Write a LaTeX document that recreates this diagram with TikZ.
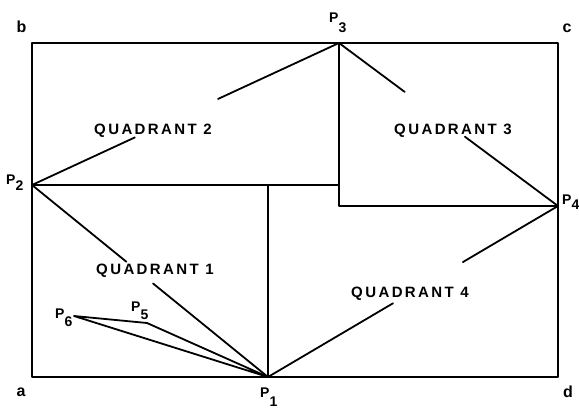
\documentclass[tikz,border=0pt]{standalone}
\usepackage{fontspec}
\usetikzlibrary{calc}
\setmainfont{Liberation Sans}
\newfontfamily\quadfont[LetterSpace=16]{Liberation Sans}
\newcommand{\Psub}[2]{P\raisebox{-#2}{#1}}
\begin{document}
\begin{tikzpicture}[x=1pt,y=-1pt,
  edge/.style={line width=1.8pt, line cap=round, line join=round},
  quad/.style={font=\fontsize{15}{15}\quadfont\bfseries, inner sep=0pt},
  plab/.style={font=\fontsize{14}{14}\selectfont\bfseries, inner sep=0pt},
  corner/.style={font=\fontsize{16}{16}\selectfont\bfseries, inner sep=0pt}]
\useasboundingbox (0,0) rectangle (579,409);
% points
\coordinate (a) at (32,377);
\coordinate (b) at (32,43);
\coordinate (c) at (558,43);
\coordinate (d) at (558,377);
\coordinate (P1) at (268,377);
\coordinate (P2) at (32,185);
\coordinate (P3) at (339,43);
\coordinate (P4) at (558,206);
\coordinate (P5) at (147,323);
\coordinate (P6) at (74,316);
\coordinate (J1) at (268,185);
\coordinate (J2) at (339,185);
\coordinate (J3) at (339,206);
% frame
\draw[edge] (a) -- (b) -- (c) -- (d) -- cycle;
% diamond sides, broken where the quadrant labels sit
\draw[edge] (P2) -- ($(P2)!0.335!(P3)$);
\draw[edge] ($(P2)!0.606!(P3)$) -- (P3);
\draw[edge] (P3) -- ($(P3)!0.30!(P4)$);
\draw[edge] ($(P3)!0.575!(P4)$) -- (P4);
\draw[edge] (P2) -- ($(P2)!0.40!(P1)$);
\draw[edge] ($(P2)!0.513!(P1)$) -- (P1);
\draw[edge] (P1) -- ($(P1)!0.431!(P4)$);
\draw[edge] ($(P1)!0.672!(P4)$) -- (P4);
% internal divisions
\draw[edge] (P2) -- (J2);
\draw[edge] (P3) -- (J3) -- (P4);
\draw[edge] (J1) -- (P1);
% small triangle
\draw[edge] (P6) -- (P5) -- (P1) -- cycle;
% corner labels
\node[corner] (la) at (21,392) {a};
\node[corner] (lb) at (21.5,27) {b};
\node[corner] (lc) at (567,28) {c};
\node[corner] (ld) at (568,392) {d};
% point labels
\node[plab, anchor=base west] (l3) at (329,23) {\Psub{3}{9.5pt}};
\node[plab, anchor=base west] (l2) at (6,185) {\Psub{2}{6pt}};
\node[plab, anchor=base west] (l4) at (562,205) {\Psub{4}{5pt}};
\node[plab, anchor=base west] (l1) at (260,397) {\Psub{1}{9pt}};
\node[plab, anchor=base west] (l5) at (131,312) {\Psub{5}{7pt}};
\node[plab, anchor=base west] (l6) at (55,318) {\Psub{6}{8pt}};
% quadrant labels
\node[quad] (q2) at (153,130.5) {QUADRANT 2};
\node[quad] (q3) at (453,130.5) {QUADRANT 3};
\node[quad] (q1) at (155,271) {QUADRANT 1};
\node[quad] (q4) at (410,293.5) {QUADRANT 4};
\end{tikzpicture}
\end{document}
